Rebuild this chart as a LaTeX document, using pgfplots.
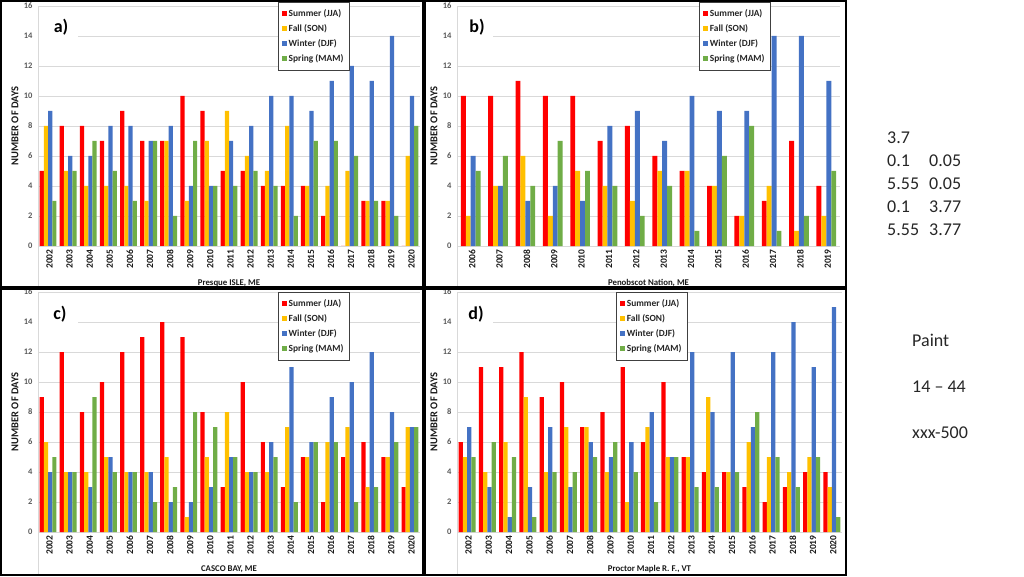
\documentclass[border=0pt]{standalone}
\usepackage{fontspec}
\setmainfont{Carlito}
\usepackage{pgfplots}
\usepackage{pgfplotstable}
\pgfplotsset{compat=1.18}
\definecolor{cS}{HTML}{FF0000}
\definecolor{cF}{HTML}{FFC000}
\definecolor{cW}{HTML}{4472C4}
\definecolor{cSp}{HTML}{70AD47}
\definecolor{gridc}{HTML}{D9D9D9}
\definecolor{tickc}{HTML}{595959}

\pgfplotstableread{
x S F W Sp
0 5 8 9 3
1 8 5 6 5
2 8 4 6 7
3 7 4 8 5
4 9 4 8 3
5 7 3 7 7
6 7 7 8 2
7 10 3 4 7
8 9 7 4 4
9 5 9 7 4
10 5 6 8 5
11 4 5 10 4
12 4 8 10 2
13 4 4 9 7
14 2 4 11 7
15 0 5 12 6
16 3 3 11 3
17 3 3 14 2
18 0 6 10 8
}\dataA
\pgfplotstableread{
x S F W Sp
0 10 2 6 5
1 10 4 4 6
2 11 6 3 4
3 10 2 4 7
4 10 5 3 5
5 7 4 8 4
6 8 3 9 2
7 6 5 7 4
8 5 5 10 1
9 4 4 9 6
10 2 2 9 8
11 3 4 14 1
12 7 1 14 2
13 4 2 11 5
}\dataB
\pgfplotstableread{
x S F W Sp
0 9 6 4 5
1 12 4 4 4
2 8 4 3 9
3 10 5 5 4
4 12 4 4 4
5 13 4 4 2
6 14 5 2 3
7 13 1 2 8
8 8 5 3 7
9 3 8 5 5
10 10 4 4 4
11 6 4 6 5
12 3 7 11 2
13 5 5 6 6
14 2 6 9 6
15 5 7 10 2
16 6 3 12 3
17 5 5 8 6
18 3 7 7 7
}\dataC
\pgfplotstableread{
x S F W Sp
0 6 5 7 5
1 11 4 3 6
2 11 6 1 5
3 12 9 3 1
4 9 4 7 4
5 10 7 3 4
6 7 7 6 5
7 8 4 5 6
8 11 2 6 4
9 6 7 8 2
10 10 5 5 5
11 5 5 12 3
12 4 9 8 3
13 4 4 12 4
14 3 6 7 8
15 2 5 12 5
16 3 4 14 3
17 4 5 11 5
18 4 3 15 1
}\dataD

\pgfplotsset{panel/.style={
  scale only axis, height=240pt, ybar=0pt, bar width=0.21,
  ymin=0, ymax=16, ytick={0,2,...,16},
  ymajorgrids, grid style={gridc, line width=0.8pt},
  axis line style={draw=none}, major tick length=0pt,
  /pgf/number format/assume math mode=true,
  yticklabel style={font=\fontsize{8.5}{9}\selectfont\bfseries, text=tickc, xshift=-2pt},
  xticklabel style={font=\fontsize{9.5}{10}\selectfont\bfseries, rotate=90, anchor=east, text=black!90, yshift=-1.5pt},
  every axis y label/.style={at={(axis description cs:0,0.5)}, xshift=-23pt, rotate=90, anchor=center, font=\fontsize{10.5}{11}\selectfont\bfseries, text=black!90},
  every axis x label/.style={at={(axis description cs:0.5,0)}, yshift=-37pt, anchor=center, font=\fontsize{8.8}{9}\selectfont\bfseries, text=black!90},
  ylabel={NUMBER OF DAYS},
  legend cell align=left,
  legend image code/.code={\fill[##1] (0pt,-2.5pt) rectangle (5pt,2.5pt);},
  legend style={anchor=north west, draw=black!75, line width=0.6pt,
    font=\fontsize{9.4}{10}\selectfont\bfseries, text=black!85, row sep=2.6pt,
    inner xsep=3.5pt, inner ysep=5pt},
}}
\newcommand\bars[1]{%
  \addplot[fill=cS,draw=none] table[x=x,y=S]{#1};
  \addplot[fill=cF,draw=none] table[x=x,y=F]{#1};
  \addplot[fill=cW,draw=none] table[x=x,y=W]{#1};
  \addplot[fill=cSp,draw=none] table[x=x,y=Sp]{#1};
  \legend{Summer (JJA), Fall (SON), Winter (DJF), Spring (MAM)}}

\begin{document}
\begin{tikzpicture}
\useasboundingbox (0,0) rectangle (1024pt,576pt);
% light chart-area lines
\draw[gridc, line width=0.8pt] (38pt,570pt) -- (38pt,289pt);
\draw[gridc, line width=0.8pt] (457pt,570pt) -- (457pt,289pt);
\draw[gridc, line width=0.8pt] (38pt,284pt) -- (38pt,2pt);
\draw[gridc, line width=0.8pt] (457pt,284pt) -- (457pt,2pt);

% a)
\begin{axis}[panel, at={(38pt,330pt)}, anchor=south west, width=382pt,
  xmin=-0.5, xmax=18.5, xtick={0,...,18},
  xticklabels={2002,2003,2004,2005,2006,2007,2008,2009,2010,2011,2012,2013,2014,2015,2016,2017,2018,2019,2020},
  xlabel={Presque ISLE, ME},
  legend style={at={(0.628,1.017)}}]
\bars{\dataA}
\end{axis}
% b)
\begin{axis}[panel, at={(457pt,330pt)}, anchor=south west, width=383pt, bar width=0.18,
  xmin=-0.5, xmax=13.5, xtick={0,...,13},
  xticklabels={2006,2007,2008,2009,2010,2011,2012,2013,2014,2015,2016,2017,2018,2019},
  xlabel={Penobscot Nation, ME},
  legend style={at={(0.632,1.017)}}]
\bars{\dataB}
\end{axis}
% c)
\begin{axis}[panel, at={(38pt,44pt)}, anchor=south west, width=382pt,
  xmin=-0.5, xmax=18.5, xtick={0,...,18},
  xticklabels={2002,2003,2004,2005,2006,2007,2008,2009,2010,2011,2012,2013,2014,2015,2016,2017,2018,2019,2020},
  xlabel={CASCO BAY, ME},
  legend style={at={(0.628,1.0)}}]
\bars{\dataC}
\end{axis}
% d)
\begin{axis}[panel, at={(457pt,44pt)}, anchor=south west, width=385pt,
  xmin=-0.5, xmax=18.5, xtick={0,...,18},
  xticklabels={2002,2003,2004,2005,2006,2007,2008,2009,2010,2011,2012,2013,2014,2015,2016,2017,2018,2019,2020},
  xlabel={Proctor Maple R. F., VT},
  legend style={at={(0.413,1.0)}}]
\bars{\dataD}
\end{axis}

% panel labels with white patches
\fill[white] (39pt,567pt) rectangle (78pt,536pt);
\fill[white] (458pt,567pt) rectangle (493pt,536pt);
\fill[white] (39pt,281pt) rectangle (78pt,250pt);
\fill[white] (458pt,281pt) rectangle (493pt,250pt);
\node[font=\fontsize{18}{19}\selectfont\bfseries] at (61pt,549pt) {a)};
\node[font=\fontsize{18}{19}\selectfont\bfseries] at (477pt,549pt) {b)};
\node[font=\fontsize{18}{19}\selectfont\bfseries] at (60pt,262pt) {c)};
\node[font=\fontsize{18}{19}\selectfont\bfseries] at (476pt,262pt) {d)};

% panel frames
\draw[black, line width=2pt] (1pt,575pt) rectangle (423pt,289pt);
\draw[black, line width=2pt] (425pt,575pt) rectangle (846pt,289pt);
\draw[black, line width=2pt] (1pt,287pt) rectangle (423pt,1pt);
\draw[black, line width=2pt] (425pt,287pt) rectangle (846pt,1pt);

% side text
\begin{scope}[every node/.style={anchor=base west, inner sep=0pt, font=\fontsize{18}{20}\selectfont, text=black!85}]
\node at (887pt,432pt) {3.7};
\node at (887pt,409pt) {0.1};   \node at (929pt,409pt) {0.05};
\node at (887pt,386pt) {5.55};  \node at (929pt,386pt) {0.05};
\node at (887pt,363pt) {0.1};   \node at (929pt,363pt) {3.77};
\node at (887pt,340pt) {5.55};  \node at (929pt,340pt) {3.77};
\node at (912pt,230pt) {Paint};
\node at (912pt,184pt) {14 – 44};
\node at (912pt,138pt) {xxx-500};
\end{scope}
\end{tikzpicture}
\end{document}
